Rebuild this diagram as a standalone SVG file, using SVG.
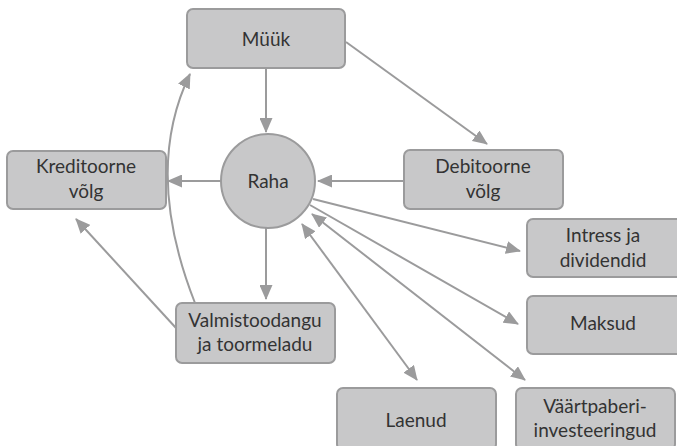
<svg xmlns="http://www.w3.org/2000/svg" width="677" height="446" viewBox="0 0 677 446">
<defs>
<style>
.box{fill:#c8c8c9;stroke:#9b9b9c;stroke-width:2}
.t{font-family:Lato,"Open Sans","Liberation Sans",sans-serif;font-size:19px;fill:#333;text-anchor:middle}
.c{fill:none;stroke:#9b9b9c;stroke-width:2}
</style>
<marker id="ah" viewBox="0 0 15 13" refX="14" refY="6.5" markerWidth="15" markerHeight="13" orient="auto-start-reverse" markerUnits="userSpaceOnUse">
<path d="M0,0 L15,6.5 L0,13 z" fill="#9b9b9c"/>
</marker>
</defs>
<rect width="677" height="446" fill="#fff"/>
<g id="connectors">
<line class="c" x1="266" y1="68" x2="266" y2="132" marker-end="url(#ah)"/>
<line class="c" x1="346" y1="42" x2="487" y2="144" marker-end="url(#ah)"/>
<line class="c" x1="221" y1="181" x2="168" y2="181" marker-end="url(#ah)"/>
<line class="c" x1="404" y1="181" x2="318" y2="181" marker-end="url(#ah)"/>
<line class="c" x1="266" y1="228" x2="266" y2="299" marker-end="url(#ah)"/>
<path class="c" d="M195,303 Q143,171 190,74" marker-end="url(#ah)"/>
<line class="c" x1="176" y1="328" x2="76" y2="219" marker-end="url(#ah)"/>
<line class="c" x1="313" y1="199" x2="520" y2="251" marker-end="url(#ah)"/>
<line class="c" x1="310" y1="205" x2="518" y2="324" marker-end="url(#ah)"/>
<line class="c" x1="312" y1="214" x2="525" y2="380" marker-start="url(#ah)" marker-end="url(#ah)"/>
<line class="c" x1="302" y1="224" x2="417" y2="380" marker-start="url(#ah)" marker-end="url(#ah)"/>
</g>
<g id="muuk"><rect class="box" x="187" y="9" width="158" height="59" rx="6"/><text class="t" x="266" y="46">Müük</text></g>
<g id="raha"><circle class="box" cx="268" cy="181" r="47"/><text class="t" x="268" y="188">Raha</text></g>
<g id="kreditoorne"><rect class="box" x="7" y="151" width="159" height="58" rx="6"/><text class="t" x="86" y="173">Kreditoorne</text><text class="t" x="86" y="198">võlg</text></g>
<g id="debitoorne"><rect class="box" x="404" y="150" width="159" height="59" rx="6"/><text class="t" x="483" y="173">Debitoorne</text><text class="t" x="483" y="198">võlg</text></g>
<g id="intress"><rect class="box" x="527" y="219" width="159" height="58" rx="6"/><text class="t" x="603" y="242">Intress ja</text><text class="t" x="603" y="267">dividendid</text></g>
<g id="maksud"><rect class="box" x="527" y="296" width="159" height="58" rx="6"/><text class="t" x="603" y="330">Maksud</text></g>
<g id="valmistoodangu"><rect class="box" x="176" y="303" width="159" height="60" rx="6"/><text class="t" x="255" y="327">Valmistoodangu</text><text class="t" x="255" y="351">ja toormeladu</text></g>
<g id="laenud"><rect class="box" x="337" y="388" width="159" height="62" rx="6"/><text class="t" x="416" y="427">Laenud</text></g>
<g id="vaartpaberi"><rect class="box" x="516" y="388" width="159" height="62" rx="6"/><text class="t" x="595" y="413">Väärtpaberi-</text><text class="t" x="595" y="437">investeeringud</text></g>
</svg>
